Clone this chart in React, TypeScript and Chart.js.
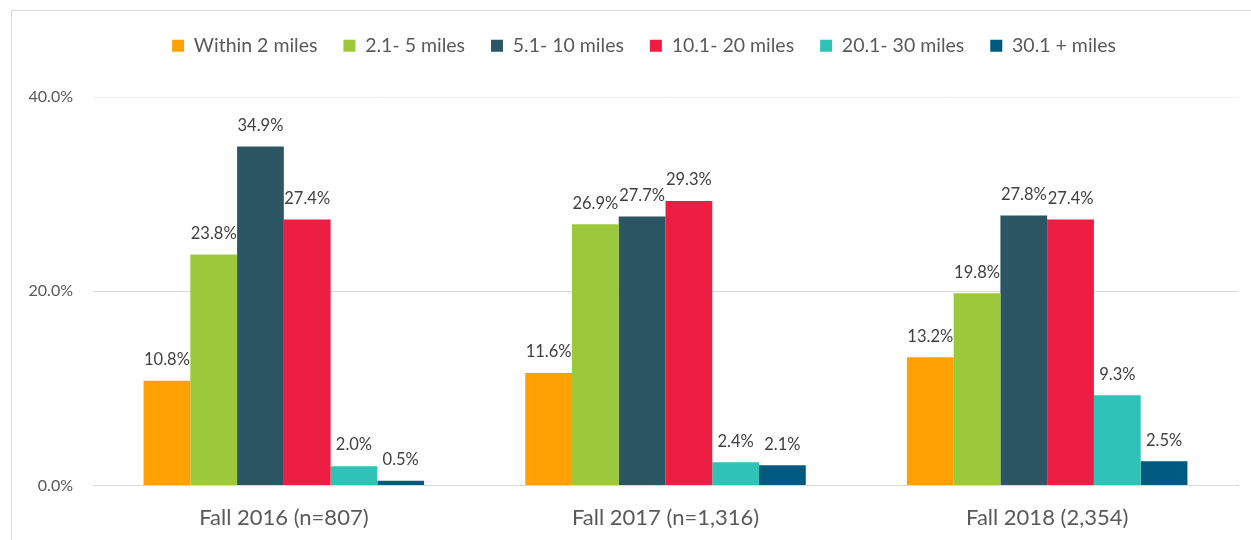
import React, { useEffect, useRef } from "react";
import { Chart, registerables } from "chart.js";

Chart.register(...registerables);

const categories = ["Fall 2016 (n=807)", "Fall 2017 (n=1,316)", "Fall 2018 (2,354)"];
const seriesNames = ["Within 2 miles", "2.1- 5 miles", "5.1- 10 miles", "10.1- 20 miles", "20.1- 30 miles", "30.1 + miles"];
const within2 = [10.8, 11.6, 13.2];
const from2to5 = [23.8, 26.9, 19.8];
const from5to10 = [34.9, 27.7, 27.8];
const from10to20 = [27.4, 29.3, 27.4];
const from20to30 = [2.0, 2.4, 9.3];
const over30 = [0.5, 2.1, 2.5];
const colors = ["#FFA102", "#9BC93B", "#2C5663", "#ED1E44", "#2EC3B6", "#005A80"];
const yTicks = [0, 20, 40];

const FONT = "Lato, 'Open Sans', sans-serif";

const labelPlugin = {
  id: "valueLabels",
  afterDatasetsDraw(chart: any) {
    const ctx = chart.ctx;
    ctx.save();
    ctx.font = `16.5px ${FONT}`;
    ctx.fillStyle = "#404040";
    ctx.textAlign = "center";
    ctx.textBaseline = "middle";
    chart.data.datasets.forEach((ds: any, i: number) => {
      const meta = chart.getDatasetMeta(i);
      meta.data.forEach((el: any, j: number) => {
        ctx.fillText(ds.data[j].toFixed(1) + "%", el.x, el.y - 21);
      });
    });
    // y tick labels
    const y = chart.scales.y;
    ctx.font = `16px ${FONT}`;
    ctx.fillStyle = "#595959";
    ctx.textAlign = "right";
    yTicks.forEach((v) => {
      ctx.fillText(v.toFixed(1) + "%", chart.chartArea.left - 20, y.getPixelForValue(v));
    });
    ctx.restore();
  },
};

const legendHeightPlugin = {
  id: "legendHeight",
  beforeInit(chart: any) {
    const legend = chart.legend;
    if (!legend) return;
    const orig = legend.fit;
    legend.fit = function () {
      orig.call(this);
      this.height = 87;
    };
  },
};

export default function App() {
  const ref = useRef<HTMLCanvasElement | null>(null);
  useEffect(() => {
    if (!ref.current) return;
    const all = [within2, from2to5, from5to10, from10to20, from20to30, over30];
    const chart = new Chart(ref.current, {
      type: "bar",
      data: {
        labels: categories,
        datasets: all.map((d, i) => ({
          label: seriesNames[i],
          data: d,
          backgroundColor: colors[i],
          borderWidth: 0,
          categoryPercentage: 0.735,
          barPercentage: 1,
        })),
      },
      options: {
        animation: false,
        responsive: false,
        maintainAspectRatio: false,
        layout: { padding: { left: 39, right: 13, top: 0, bottom: 10 } },
        plugins: {
          legend: {
            position: "top",
            labels: {
              boxWidth: 12,
              boxHeight: 12,
              padding: 26,
              color: "#595959",
              font: { family: FONT, size: 19.5 },
            },
          },
          tooltip: { enabled: false },
        },
        scales: {
          x: {
            grid: { display: false, drawTicks: false },
            border: { color: "#D9D9D9", width: 1 },
            ticks: { color: "#595959", font: { family: FONT, size: 22 }, padding: 19 },
          },
          y: {
            min: 0,
            max: 40,
            afterFit: (s: any) => { s.width = 43; },
            afterBuildTicks: (s: any) => { s.ticks = yTicks.map((v) => ({ value: v })); },
            grid: {
              color: (c: any) => (c.tick && c.tick.value === 40 ? "#F0F0F0" : "#D9D9D9"),
              drawTicks: false,
            },
            border: { display: false },
            ticks: { display: false },
          },
        },
      },
      plugins: [labelPlugin, legendHeightPlugin],
    });
    return () => chart.destroy();
  }, []);
  return (
    <div style={{ position: "fixed", inset: 0, overflow: "hidden", background: "#fff" }}>
      <div style={{ position: "absolute", left: 11, top: 10, width: 1400, height: 700, borderLeft: "1px solid #D9D9D9", borderTop: "1px solid #D9D9D9" }} />
      <canvas ref={ref} width={1240} height={550} style={{ position: "absolute", left: 11, top: 10, width: 1240, height: 550 }} />
    </div>
  );
}
